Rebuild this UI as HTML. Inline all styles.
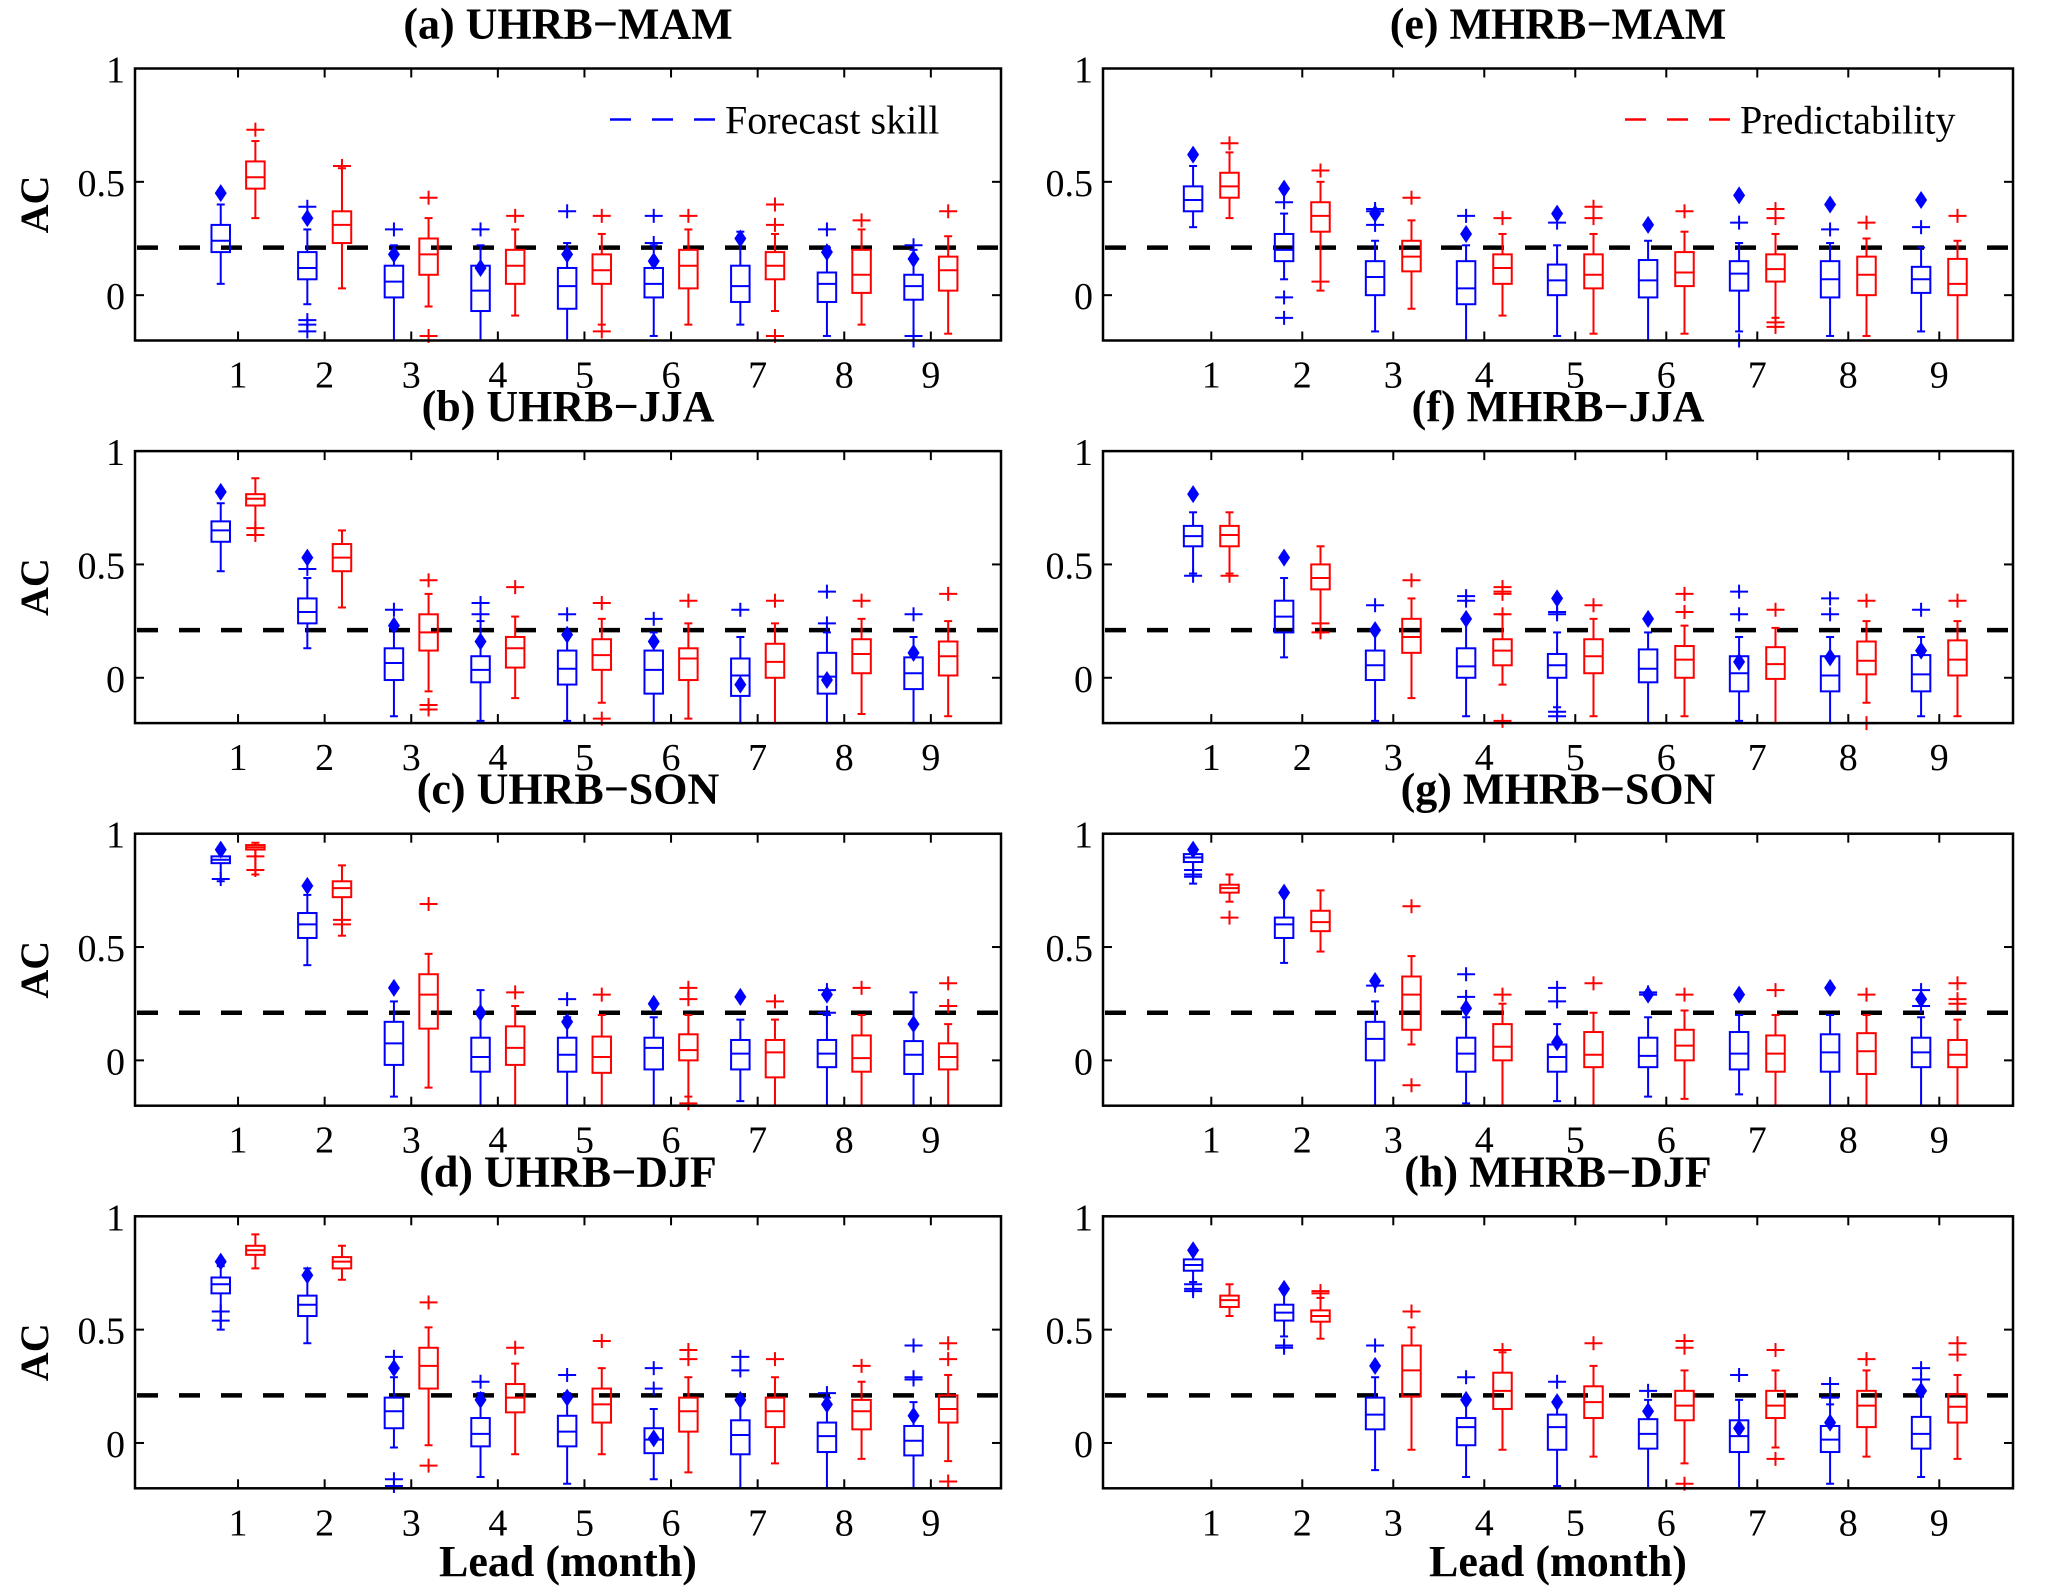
<!DOCTYPE html>
<html><head><meta charset="utf-8"><style>
html,body{margin:0;padding:0;background:#fff;}
svg{display:block;}
text{font-family:"Liberation Serif","DejaVu Serif",serif;}
</style></head><body>
<svg id="chart" xmlns="http://www.w3.org/2000/svg" width="2067" height="1592" viewBox="0 0 2067 1592"></svg>
<script>
// ---- data ----
const leads = [1,2,3,4,5,6,7,8,9];
const yTicks = [0, 0.5, 1];
const yTickLabels = ["0", "0.5", "1"];
const thresholdValue = 0.21;
const panelTitles = ["(a) UHRB\u2212MAM","(b) UHRB\u2212JJA","(c) UHRB\u2212SON","(d) UHRB\u2212DJF","(e) MHRB\u2212MAM","(f) MHRB\u2212JJA","(g) MHRB\u2212SON","(h) MHRB\u2212DJF"];

// box stats: [low whisker, q1, median, q3, high whisker]
const aBlue = [[0.05,0.19,0.24,0.31,0.40],[-0.04,0.07,0.12,0.19,0.29],[-0.2,-0.01,0.06,0.13,0.22],[-0.2,-0.07,0.02,0.13,0.22],[-0.2,-0.06,0.04,0.12,0.23],[-0.18,-0.01,0.05,0.12,0.22],[-0.13,-0.03,0.04,0.13,0.28],[-0.18,-0.03,0.05,0.10,0.21],[-0.2,-0.02,0.04,0.09,0.2]];
const aBlueMean = [0.45,0.34,0.18,0.12,0.18,0.15,0.25,0.19,0.16];
const aBlueOut = [[],[0.39,-0.11,-0.13,-0.16],[0.29],[0.29],[0.37],[0.35,0.23],[],[0.29],[0.22,-0.18,-0.2]];
const aRed = [[0.34,0.47,0.52,0.59,0.68],[0.03,0.23,0.31,0.37,0.56],[-0.05,0.09,0.18,0.25,0.34],[-0.09,0.05,0.13,0.2,0.29],[-0.13,0.05,0.11,0.18,0.27],[-0.13,0.03,0.13,0.2,0.29],[-0.07,0.07,0.13,0.19,0.27],[-0.13,0.01,0.09,0.2,0.29],[-0.17,0.02,0.11,0.17,0.26]];
const aRedOut = [[0.73],[0.57],[0.43,-0.18],[0.35],[0.35,-0.16],[0.35],[0.4,0.31,-0.18],[0.33],[0.37]];

const bBlue = [[0.47,0.60,0.65,0.69,0.77],[0.13,0.24,0.29,0.35,0.44],[-0.17,-0.01,0.065,0.13,0.22],[-0.19,-0.02,0.035,0.095,0.25],[-0.19,-0.03,0.04,0.12,0.2],[-0.2,-0.07,0.035,0.12,0.2],[-0.2,-0.08,0.01,0.085,0.18],[-0.2,-0.07,0.005,0.11,0.2],[-0.2,-0.05,0.02,0.09,0.18]];
const bBlueMean = [0.82,0.53,0.23,0.16,0.19,0.16,-0.03,-0.01,0.11];
const bBlueOut = [[],[0.48],[0.30],[0.33,0.28],[0.28],[0.26],[0.3],[0.38,0.24],[0.28]];
const bRed = [[0.63,0.76,0.79,0.81,0.88],[0.31,0.47,0.53,0.59,0.65],[-0.06,0.12,0.2,0.28,0.37],[-0.09,0.045,0.13,0.18,0.27],[-0.11,0.035,0.10,0.17,0.26],[-0.18,-0.01,0.085,0.13,0.24],[-0.2,0.0,0.07,0.15,0.24],[-0.16,0.02,0.105,0.17,0.26],[-0.17,0.01,0.095,0.16,0.25]];
const bRedOut = [[0.66,0.63],[],[0.43,-0.12,-0.14],[0.40],[0.33,-0.18],[0.34],[0.34],[0.34],[0.37]];

const cBlue = [[0.79,0.87,0.885,0.90,0.92],[0.42,0.54,0.6,0.65,0.73],[-0.16,-0.02,0.075,0.17,0.26],[-0.2,-0.05,0.015,0.1,0.31],[-0.2,-0.05,0.025,0.1,0.19],[-0.2,-0.04,0.055,0.1,0.19],[-0.18,-0.04,0.03,0.09,0.18],[-0.2,-0.03,0.03,0.09,0.2],[-0.2,-0.06,0.025,0.085,0.3]];
const cBlueMean = [0.93,0.77,0.32,0.21,0.17,0.25,0.28,0.29,0.16];
const cBlueOut = [[0.8],[],[],[],[0.27],[],[],[0.31,0.21],[]];
const cRed = [[0.82,0.93,0.94,0.95,0.96],[0.55,0.72,0.76,0.79,0.86],[-0.12,0.14,0.29,0.38,0.47],[-0.2,-0.02,0.055,0.15,0.24],[-0.2,-0.055,0.015,0.105,0.2],[-0.16,0.0,0.045,0.115,0.2],[-0.2,-0.075,0.035,0.09,0.18],[-0.2,-0.05,0.01,0.11,0.2],[-0.2,-0.04,0.015,0.075,0.16]];
const cRedOut = [[0.9,0.84],[0.6,0.62],[0.69],[0.3],[0.29],[0.32,0.27,-0.19],[0.26],[0.32],[0.34,0.24]];

const dBlue = [[0.5,0.66,0.70,0.73,0.78],[0.44,0.56,0.61,0.65,0.77],[-0.02,0.065,0.14,0.2,0.29],[-0.15,-0.015,0.04,0.11,0.22],[-0.18,-0.015,0.05,0.12,0.22],[-0.16,-0.045,0.015,0.065,0.15],[-0.2,-0.05,0.035,0.1,0.19],[-0.2,-0.04,0.03,0.09,0.2],[-0.2,-0.055,0.01,0.075,0.18]];
const dBlueMean = [0.8,0.74,0.33,0.19,0.2,0.02,0.19,0.17,0.12];
const dBlueOut = [[0.54,0.58],[],[0.38,-0.16,-0.19],[0.27],[0.3],[0.33,0.24],[0.38,0.32],[0.22],[0.43,0.29,0.28]];
const dRed = [[0.77,0.83,0.85,0.87,0.92],[0.72,0.77,0.80,0.82,0.87],[-0.01,0.24,0.34,0.42,0.51],[-0.05,0.135,0.2,0.26,0.35],[-0.05,0.09,0.17,0.24,0.33],[-0.13,0.05,0.14,0.2,0.29],[-0.09,0.07,0.14,0.2,0.29],[-0.07,0.06,0.14,0.19,0.27],[-0.08,0.09,0.15,0.21,0.3]];
const dRedOut = [[],[],[0.62,-0.1],[0.42],[0.45],[0.41,0.37],[0.37],[0.34],[0.44,0.37,-0.17]];

const eBlue = [[0.3,0.37,0.42,0.48,0.57],[0.07,0.15,0.2,0.27,0.36],[-0.16,0.0,0.08,0.15,0.24],[-0.2,-0.04,0.03,0.15,0.22],[-0.18,0.0,0.065,0.135,0.22],[-0.2,-0.01,0.065,0.155,0.24],[-0.16,0.02,0.095,0.15,0.23],[-0.18,-0.01,0.07,0.15,0.23],[-0.16,0.01,0.07,0.125,0.21]];
const eBlueMean = [0.62,0.47,0.36,0.27,0.36,0.31,0.44,0.4,0.42];
const eBlueOut = [[],[0.41,-0.01,-0.1],[0.38,0.37,0.31],[0.35],[0.32],[],[0.32,-0.2],[0.29],[0.3]];
const eRed = [[0.34,0.43,0.48,0.54,0.63],[0.02,0.28,0.35,0.41,0.5],[-0.06,0.105,0.17,0.24,0.33],[-0.09,0.05,0.12,0.18,0.27],[-0.17,0.03,0.09,0.18,0.27],[-0.17,0.04,0.1,0.19,0.28],[-0.1,0.06,0.115,0.18,0.27],[-0.18,0.0,0.09,0.17,0.25],[-0.2,0.0,0.05,0.16,0.24]];
const eRedOut = [[0.67],[0.55,0.06],[0.43],[0.34],[0.39,0.34],[0.37],[0.38,0.34,-0.12,-0.14],[0.32],[0.35]];

const fBlue = [[0.46,0.58,0.625,0.67,0.73],[0.09,0.2,0.27,0.34,0.44],[-0.19,-0.01,0.055,0.12,0.2],[-0.17,0.0,0.05,0.13,0.26],[-0.13,0.0,0.055,0.105,0.2],[-0.2,-0.02,0.04,0.125,0.2],[-0.19,-0.06,0.02,0.095,0.18],[-0.2,-0.06,0.01,0.095,0.18],[-0.17,-0.06,0.015,0.1,0.18]];
const fBlueMean = [0.81,0.53,0.21,0.26,0.35,0.26,0.07,0.09,0.12];
const fBlueOut = [[0.45],[],[0.32],[0.36,0.34],[0.29,0.28,-0.15,-0.17],[],[0.38,0.28],[0.35,0.28],[0.3]];
const fRed = [[0.46,0.58,0.63,0.67,0.73],[0.2,0.39,0.44,0.5,0.58],[-0.09,0.11,0.18,0.26,0.35],[-0.03,0.055,0.12,0.17,0.28],[-0.17,0.02,0.095,0.17,0.26],[-0.17,0.0,0.08,0.14,0.23],[-0.2,-0.005,0.06,0.135,0.22],[-0.11,0.015,0.075,0.16,0.25],[-0.17,0.01,0.08,0.165,0.25]];
const fRedOut = [[0.45],[0.24,0.2],[0.43],[0.4,0.38,0.37,0.28,-0.19],[0.32],[0.37,0.29],[0.3],[0.34,-0.2],[0.34]];

const gBlue = [[0.78,0.875,0.895,0.91,0.92],[0.43,0.54,0.6,0.63,0.73],[-0.2,0.0,0.095,0.17,0.26],[-0.19,-0.05,0.03,0.1,0.19],[-0.18,-0.05,0.015,0.07,0.16],[-0.16,-0.03,0.02,0.1,0.19],[-0.15,-0.04,0.03,0.125,0.2],[-0.2,-0.05,0.035,0.115,0.2],[-0.2,-0.03,0.035,0.1,0.19]];
const gBlueMean = [0.93,0.74,0.35,0.23,0.08,0.29,0.29,0.32,0.27];
const gBlueOut = [[0.81,0.82,0.84],[],[0.33],[0.38,0.28],[0.32,0.26],[0.3,0.29],[],[],[0.31,0.24]];
const gRed = [[0.7,0.74,0.76,0.775,0.82],[0.48,0.57,0.61,0.66,0.75],[0.07,0.135,0.29,0.37,0.46],[-0.2,0.0,0.06,0.16,0.25],[-0.2,-0.03,0.025,0.125,0.21],[-0.17,0.0,0.065,0.135,0.22],[-0.2,-0.05,0.03,0.11,0.2],[-0.2,-0.06,0.04,0.12,0.2],[-0.2,-0.03,0.025,0.09,0.18]];
const gRedOut = [[0.63],[],[0.68,-0.11],[0.29],[0.34],[0.29],[0.31],[0.29],[0.34,0.27,0.25]];

const hBlue = [[0.71,0.76,0.785,0.81,0.85],[0.47,0.54,0.575,0.61,0.69],[-0.12,0.06,0.125,0.2,0.29],[-0.15,-0.01,0.07,0.11,0.19],[-0.19,-0.03,0.07,0.125,0.19],[-0.2,-0.025,0.04,0.105,0.19],[-0.2,-0.04,0.03,0.1,0.19],[-0.18,-0.04,0.015,0.075,0.17],[-0.15,-0.025,0.04,0.115,0.23]];
const hBlueMean = [0.85,0.68,0.34,0.19,0.18,0.14,0.065,0.09,0.23];
const hBlueOut = [[0.7,0.68,0.67],[0.43,0.42],[0.43],[0.29],[0.27],[0.23],[0.3],[0.26,0.2],[0.33,0.28]];
const hRed = [[0.56,0.6,0.63,0.65,0.7],[0.46,0.535,0.56,0.585,0.64],[-0.03,0.205,0.32,0.43,0.51],[-0.03,0.15,0.23,0.31,0.4],[-0.06,0.11,0.18,0.25,0.34],[-0.09,0.1,0.165,0.23,0.32],[-0.02,0.11,0.165,0.23,0.32],[-0.06,0.07,0.165,0.23,0.32],[-0.07,0.09,0.16,0.215,0.3]];
const hRedOut = [[],[0.67,0.66],[0.58],[0.41],[0.44],[0.45,0.42,-0.18],[0.41,-0.07],[0.37],[0.44,0.39]];

const panelsBlue = [aBlue,bBlue,cBlue,dBlue,eBlue,fBlue,gBlue,hBlue];
const panelsBlueMean = [aBlueMean,bBlueMean,cBlueMean,dBlueMean,eBlueMean,fBlueMean,gBlueMean,hBlueMean];
const panelsBlueOut = [aBlueOut,bBlueOut,cBlueOut,dBlueOut,eBlueOut,fBlueOut,gBlueOut,hBlueOut];
const panelsRed = [aRed,bRed,cRed,dRed,eRed,fRed,gRed,hRed];
const panelsRedOut = [aRedOut,bRedOut,cRedOut,dRedOut,eRedOut,fRedOut,gRedOut,hRedOut];

// ---- drawing ----
const NS = "http://www.w3.org/2000/svg";
const svg = document.getElementById("chart");
function mk(tag, attrs, parent){
  const e = document.createElementNS(NS, tag);
  for (const k in attrs) e.setAttribute(k, attrs[k]);
  (parent||svg).appendChild(e);
  return e;
}
const BLUE = "#0000ff", RED = "#ff0000";
const XMIN = -0.19, XMAX = 9.81, YMIN = -0.2, YMAX = 1;

for (let p = 0; p < 8; p++){
  const col = p < 4 ? 0 : 1, row = p % 4;
  const L = col === 0 ? 135 : 1103, R = col === 0 ? 1001 : 2013;
  const T = 68.5 + row * 382.6, B = T + 272;
  const xs = v => L + (v - XMIN) / (XMAX - XMIN) * (R - L);
  const ys = v => B - (v - YMIN) / (YMAX - YMIN) * (B - T);
  const g = mk("g", {});
  
  

  const title = mk("text", {x:(L+R)/2, y:T-30, "text-anchor":"middle", "font-size":44, "font-weight":"bold"}, g);
  title.textContent = panelTitles[p];
  
  

  if (col === 0){
    const yl = mk("text", {x:0, y:0, "text-anchor":"middle", "font-size":40, "font-weight":"bold", transform:`translate(48,${(T+B)/2}) rotate(-90)`}, g);
    yl.textContent = "AC";
    
    
  }

  // ticks
  yTicks.forEach((t,i) => {
    const y = ys(t);
    mk("line", {x1:L, x2:L+9, y1:y, y2:y, stroke:"#000", "stroke-width":2}, g);
    mk("line", {x1:R, x2:R-9, y1:y, y2:y, stroke:"#000", "stroke-width":2}, g);
    const tl = mk("text", {x:L-10, y:y+14, "text-anchor":"end", "font-size":38}, g);
    tl.textContent = yTickLabels[i];
    
    
  });
  leads.forEach(k => {
    const x = xs(k);
    mk("line", {x1:x, x2:x, y1:T, y2:T+9, stroke:"#000", "stroke-width":2}, g);
    mk("line", {x1:x, x2:x, y1:B, y2:B-9, stroke:"#000", "stroke-width":2}, g);
    const tl = mk("text", {x:x, y:B+47, "text-anchor":"middle", "font-size":38}, g);
    tl.textContent = String(k);
    
    
  });

  const clip = mk("clipPath", {id:"clip"+p}, g);
  mk("rect", {x:L, y:T-2, width:R-L, height:B-T+14}, clip);
  const plot = mk("g", {"clip-path":`url(#clip${p})`}, g);

  // threshold line
  const th = mk("line", {x1:L+2, x2:R, y1:ys(thresholdValue), y2:ys(thresholdValue), stroke:"#000", "stroke-width":4.5, "stroke-dasharray":"21 21"}, plot);
  
  

  const series = [
    {data:panelsBlue[p], out:panelsBlueOut[p], mean:panelsBlueMean[p], off:-0.2, color:BLUE, name:"forecast-skill"},
    {data:panelsRed[p], out:panelsRedOut[p], mean:null, off:0.2, color:RED, name:"predictability"}
  ];
  const bw = 18.5;
  series.forEach(s => {
    s.data.forEach((st, i) => {
      const cx = xs(leads[i] + s.off);
      const bg = mk("g", {stroke:s.color, "stroke-width":2, fill:"none"}, plot);
      
      
      mk("line", {x1:cx, x2:cx, y1:ys(st[3]), y2:ys(st[4])}, bg);
      mk("line", {x1:cx, x2:cx, y1:ys(st[1]), y2:ys(st[0])}, bg);
      mk("line", {x1:cx-4, x2:cx+4, y1:ys(st[4]), y2:ys(st[4])}, bg);
      mk("line", {x1:cx-4, x2:cx+4, y1:ys(st[0]), y2:ys(st[0])}, bg);
      mk("rect", {x:cx-bw/2, y:ys(st[3]), width:bw, height:ys(st[1])-ys(st[3])}, bg);
      mk("line", {x1:cx-bw/2, x2:cx+bw/2, y1:ys(st[2]), y2:ys(st[2])}, bg);
      s.out[i].forEach(o => {
        const oy = ys(o);
        const og = mk("g", {stroke:s.color, "stroke-width":2}, plot);
        
        
        mk("line", {x1:cx-9, x2:cx+9, y1:oy, y2:oy}, og);
        mk("line", {x1:cx, x2:cx, y1:oy-7, y2:oy+7}, og);
      });
      if (s.mean){
        const my = ys(s.mean[i]);
        const d = mk("path", {d:`M${cx},${my-9} L${cx+6},${my} L${cx},${my+9} L${cx-6},${my} Z`, fill:s.color, stroke:"none"}, plot);
        
        
      }
    });
  });

  const frame = mk("rect", {x:L, y:T, width:R-L, height:B-T, fill:"none", stroke:"#000", "stroke-width":2.5}, g);
  
  

  if (p === 0 || p === 4){
    const lx = p === 0 ? 610 : 1625, ly = T + 51;
    const color = p === 0 ? BLUE : RED;
    const lg = mk("g", {}, g);
    
    
    mk("line", {x1:lx, x2:lx+105, y1:ly, y2:ly, stroke:color, "stroke-width":2.5, "stroke-dasharray":"21 21"}, lg);
    const lt = mk("text", {x:lx+115, y:ly+14, "font-size":40}, lg);
    lt.textContent = p === 0 ? "Forecast skill" : "Predictability";
  }

  if (row === 3){
    const xl = mk("text", {x:(L+R)/2, y:1576, "text-anchor":"middle", "font-size":44, "font-weight":"bold"}, g);
    xl.textContent = "Lead (month)";
    
    
  }
}
</script>
</body></html>
